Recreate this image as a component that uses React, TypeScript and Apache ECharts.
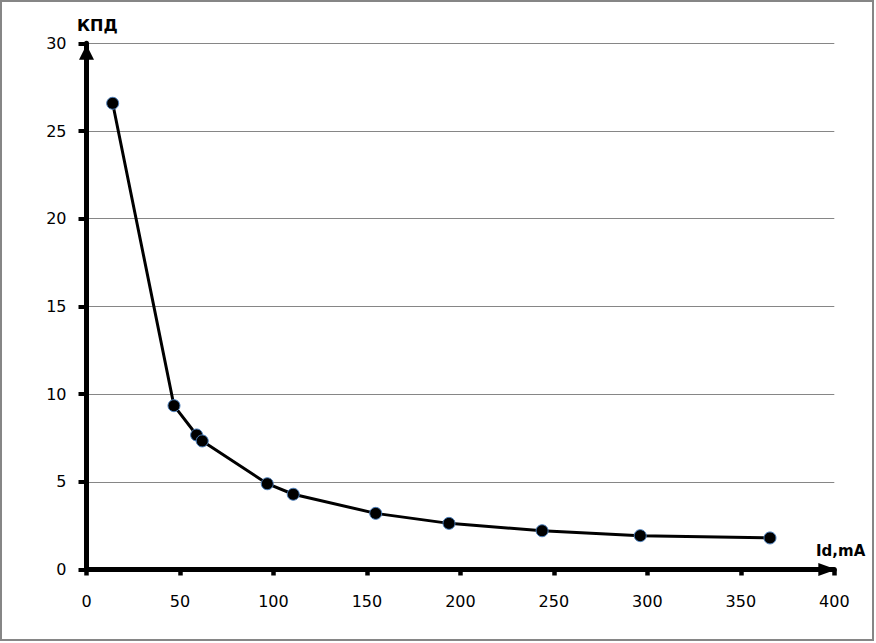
import React, { useEffect, useRef } from "react";
import * as echarts from "echarts";

const currentMa = [14.0, 46.8, 58.9, 61.9, 96.7, 110.6, 154.7, 193.9, 243.7, 296.2, 365.6];
const efficiency = [26.58, 9.34, 7.67, 7.33, 4.89, 4.29, 3.2, 2.63, 2.21, 1.93, 1.8];
const yAxisName = "КПД";
const xAxisName = "Id,mA";

export default function App() {
  const ref = useRef<HTMLDivElement>(null);
  useEffect(() => {
    if (!ref.current) return;
    const chart = echarts.init(ref.current, null, { renderer: "svg" });
    const points = currentMa.map((x, i) => [x, efficiency[i]]);
    const font = "DejaVu Sans";
    chart.setOption({
      animation: false,
      backgroundColor: "#ffffff",
      grid: { left: 86.5, right: 41.7, top: 43.3, bottom: 73.5 },
      xAxis: {
        type: "value",
        min: 0,
        max: 400,
        interval: 50,
        axisLine: {
          show: true,
          onZero: false,
          symbol: ["none", "triangle"],
          symbolSize: [13, 18],
          symbolOffset: [0, -7],
          lineStyle: { color: "#000", width: 5 },
        },
        axisTick: { show: true, length: 6, lineStyle: { color: "#000", width: 4.5 } },
        axisLabel: { color: "#000", fontFamily: font, fontSize: 16, margin: 24 },
        splitLine: { show: false },
      },
      yAxis: {
        type: "value",
        min: 0,
        max: 30,
        interval: 5,
        axisLine: {
          show: true,
          onZero: false,
          symbol: ["none", "triangle"],
          symbolSize: [15, 15],
          symbolOffset: [0, -9],
          lineStyle: { color: "#000", width: 5 },
        },
        axisTick: { show: true, length: 8, lineStyle: { color: "#000", width: 4 } },
        axisLabel: { color: "#000", fontFamily: font, fontSize: 16, margin: 20 },
        splitLine: { show: true, lineStyle: { color: "#868686", width: 1 } },
      },
      series: [
        {
          type: "line",
          data: points,
          lineStyle: { color: "#000", width: 3 },
          symbol: "circle",
          symbolSize: 12,
          itemStyle: { color: "#000", borderColor: "#4a7ebb", borderWidth: 1 },
          z: 5,
        },
      ],
      graphic: [
        {
          type: "rect",
          shape: { x: 1, y: 1, width: 872, height: 639 },
          style: { fill: "none", stroke: "#868686", lineWidth: 2 },
          silent: true,
        },
        {
          type: "text",
          x: 77,
          y: 25,
          style: {
            text: yAxisName,
            fill: "#000",
            font: `bold 16px "${font}"`,
            textAlign: "left",
            textVerticalAlign: "middle",
          },
        },
        {
          type: "text",
          x: 816,
          y: 551,
          style: {
            text: xAxisName,
            fill: "#000",
            font: `bold 15px "${font}"`,
            textAlign: "left",
            textVerticalAlign: "middle",
          },
        },
      ],
    });
    return () => chart.dispose();
  }, []);
  return (
    <div
      ref={ref}
      style={{ position: "absolute", left: 0, top: 0, width: 876, height: 643, background: "#fff" }}
    />
  );
}
